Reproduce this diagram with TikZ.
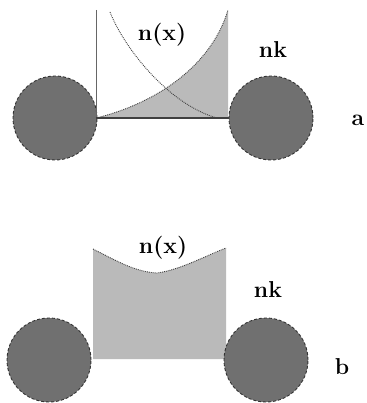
\documentclass[tikz,border=0pt]{standalone}
\begin{document}
\begin{tikzpicture}[x=1pt,y=-1pt,
  ball/.style={circle,draw=black!80,densely dashed,line width=0.9pt,fill=black!56,minimum size=84pt,inner sep=0pt},
  lbl/.style={font=\fontsize{23}{23}\selectfont\bfseries,inner sep=0pt},
  curve/.style={draw=black!75,densely dotted,line width=0.9pt},
  areafill/.style={fill=black!27}]
\useasboundingbox (0,0) rectangle (366,403);
% ---- part a ----
\coordinate (a0) at (96,118);
\coordinate (a1) at (228,10);
\coordinate (a2) at (228,118);
\fill[areafill] (a0) .. controls (150,105) and (210,70) .. (a1) -- (a2) -- cycle;
\node[ball] (La) at (55,118) {};
\node[ball] (Ra) at (271,118) {};
\coordinate (vt) at (96,10);
\draw[black!60,line width=0.8pt] (vt) -- (a0);
\draw[black!75,line width=1.6pt] (a0) -- (Ra.west);
\draw[curve] (a0) .. controls (150,105) and (210,70) .. (a1);
\coordinate (f0) at (110,12);
\coordinate (f1) at (217,118);
\draw[curve] (f0) .. controls (125,50) and (170,105) .. (f1);
\node[lbl] (nxa) at (162,35) {n(x)};
\node[lbl] (nka) at (273,50) {nk};
\node[lbl] (ta) at (358,120) {a};
% ---- part b ----
\coordinate (b0) at (93,249);
\coordinate (bm) at (157,273);
\coordinate (b1) at (226,248);
\coordinate (b2) at (226,359);
\coordinate (b3) at (93,359);
\fill[areafill] (b0) .. controls (115,260) and (135,272) .. (bm) .. controls (180,270) and (205,256) .. (b1) -- (b2) -- (b3) -- cycle;
\draw[curve] (b0) .. controls (115,260) and (135,272) .. (bm) .. controls (180,270) and (205,256) .. (b1);
\node[ball] (Lb) at (49,360) {};
\node[ball] (Rb) at (266,360) {};
\node[lbl] (nxb) at (163,248) {n(x)};
\node[lbl] (nkb) at (268,290) {nk};
\node[lbl] (tb) at (342,367) {b};
\end{tikzpicture}
\end{document}
